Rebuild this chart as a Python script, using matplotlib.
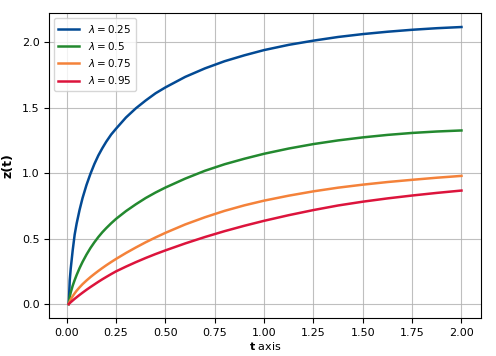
import matplotlib

matplotlib.use("Agg", force=True)
import matplotlib.pyplot as plt

# values
t_values = [0.01, 0.015, 0.02, 0.03, 0.04, 0.05, 0.065, 0.08, 0.1, 0.12, 0.14, 0.16,
            0.18, 0.2, 0.225, 0.25, 0.3, 0.35, 0.4, 0.45, 0.5, 0.6, 0.7, 0.8, 0.9,
            1.0, 1.125, 1.25, 1.375, 1.5, 1.625, 1.75, 1.875, 2.0]
z_025 = [0.0, 0.18, 0.27, 0.41, 0.53, 0.615, 0.72, 0.81, 0.91, 0.995, 1.07, 1.135,
         1.19, 1.24, 1.295, 1.34, 1.425, 1.495, 1.555, 1.61, 1.655, 1.735, 1.80, 1.855, 1.90,
         1.94, 1.98, 2.012, 2.04, 2.062, 2.08, 2.095, 2.107, 2.116]
z_050 = [0.0, 0.055, 0.088, 0.14, 0.183, 0.222, 0.275, 0.322, 0.378, 0.428, 0.472, 0.512,
         0.548, 0.58, 0.617, 0.651, 0.71, 0.762, 0.81, 0.852, 0.89, 0.958, 1.018, 1.068, 1.11,
         1.148, 1.188, 1.222, 1.25, 1.273, 1.292, 1.307, 1.318, 1.326]
z_075 = [0.0, 0.02, 0.035, 0.06, 0.082, 0.102, 0.128, 0.152, 0.18, 0.206, 0.23, 0.253,
         0.275, 0.296, 0.321, 0.345, 0.39, 0.432, 0.472, 0.509, 0.544, 0.608, 0.663, 0.712, 0.754,
         0.79, 0.828, 0.861, 0.889, 0.912, 0.932, 0.949, 0.965, 0.979]
z_095 = [0.0, 0.007, 0.014, 0.027, 0.04, 0.052, 0.07, 0.087, 0.109, 0.13, 0.15, 0.17,
         0.189, 0.207, 0.229, 0.25, 0.286, 0.32, 0.352, 0.382, 0.41, 0.463, 0.512, 0.557, 0.598,
         0.636, 0.679, 0.718, 0.753, 0.782, 0.807, 0.829, 0.849, 0.867]

series = [
    ("0.25", z_025, "#034a94"),
    ("0.5", z_050, "#23892f"),
    ("0.75", z_075, "#f4823a"),
    ("0.95", z_095, "#dc143c"),
]

fig, ax = plt.subplots(figsize=(4.96, 3.56), dpi=100)
fig.subplots_adjust(left=0.099, right=0.97, top=0.963, bottom=0.107)

for lam, z, color in series:
    ax.plot(t_values, z, color=color, linewidth=1.8, label=rf"$\lambda = {lam}$")

ax.set_xticks([0.0, 0.25, 0.5, 0.75, 1.0, 1.25, 1.5, 1.75, 2.0])
ax.set_yticks([0.0, 0.5, 1.0, 1.5, 2.0])
ax.tick_params(labelsize=8)
ax.set_xlabel(r"$\mathbf{t}$ axis", fontsize=8, labelpad=2)
ax.set_ylabel("z(t)", fontsize=9, fontweight="bold", labelpad=5)
ax.grid(True, color="#b0b0b0", linewidth=0.8, alpha=0.8)
ax.legend(loc="upper left", fontsize=7.5, borderaxespad=0.45, labelspacing=0.5,
          borderpad=0.45)

fig.savefig("out.png")
